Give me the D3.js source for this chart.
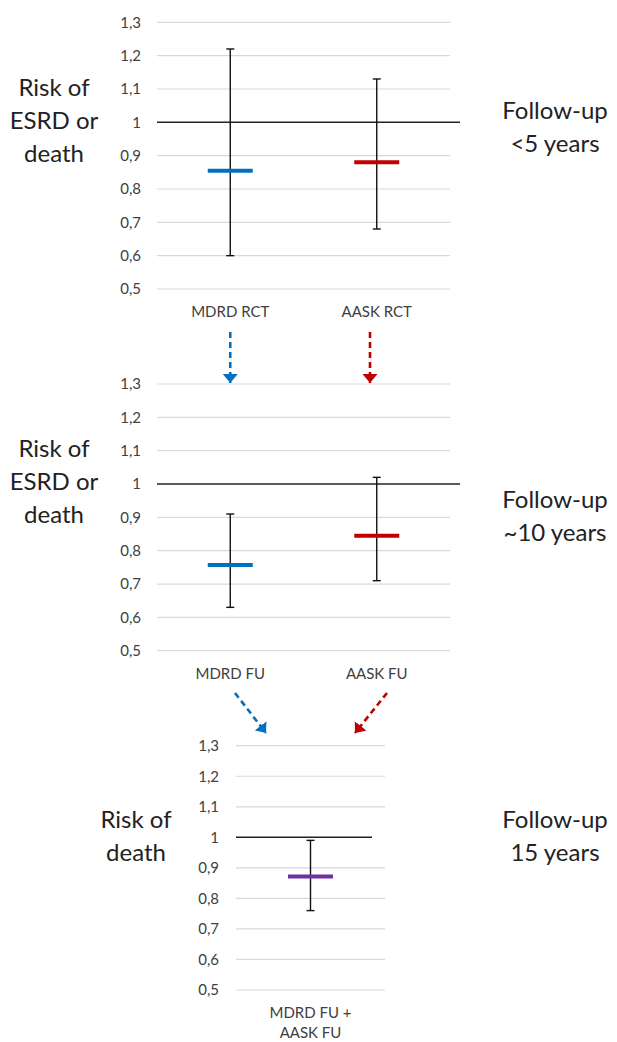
<!DOCTYPE html>
<html>
<head>
<meta charset="utf-8">
<script src="https://cdn.jsdelivr.net/npm/d3@7"></script>
<style>
  html, body { margin: 0; padding: 0; background: #fff; }
  svg { display: block; font-family: Lato, "Open Sans", sans-serif; }
</style>
</head>
<body>
<svg id="chart" width="617" height="1042"></svg>
<script>
// values
const yTicks = [0.5, 0.6, 0.7, 0.8, 0.9, 1.0, 1.1, 1.2, 1.3];

const rctCats = ["MDRD RCT", "AASK RCT"];
const rctMean = [0.855, 0.88];
const rctLow = [0.60, 0.68];
const rctHigh = [1.22, 1.13];
const rctColors = ["#0070c0", "#c00000"];

const fuCats = ["MDRD FU", "AASK FU"];
const fuMean = [0.757, 0.845];
const fuLow = [0.63, 0.71];
const fuHigh = [0.91, 1.02];
const fuColors = ["#0070c0", "#c00000"];

const pooledCats = ["MDRD FU +\nAASK FU"];
const pooledMean = [0.872];
const pooledLow = [0.76];
const pooledHigh = [0.99];
const pooledColors = ["#7030a0"];

const svg = d3.select("#chart");
const fmt = d => d3.format(".1~f")(d).replace(".", ",");

// draws one panel, returns the scales so arrows can hook onto it
function panel(opt) {
  const y = d3.scaleLinear().domain([0.5, 1.3]).range([opt.bottom, opt.top]);
  const x = d3.scaleBand().domain(opt.cats).range([opt.left, opt.right]);
  const g = svg.append("g");

  g.selectAll("line.grid").data(yTicks.filter(t => t !== 1)).join("line")
    .attr("class", "grid")
    .attr("x1", opt.left).attr("x2", opt.right)
    .attr("y1", d => y(d)).attr("y2", d => y(d))
    .attr("stroke", "#d9d9d9").attr("stroke-width", 1.2);

  g.append("line")
    .attr("x1", opt.left).attr("x2", opt.refEnd)
    .attr("y1", y(1)).attr("y2", y(1))
    .attr("stroke", "#222").attr("stroke-width", 1.4);

  const ax = g.append("g").attr("transform", `translate(${opt.left},0)`)
    .call(d3.axisLeft(y).tickValues(yTicks).tickFormat(fmt).tickSize(0).tickPadding(opt.pad));
  ax.select(".domain").remove();
  ax.selectAll("text").attr("font-size", 15).attr("fill", "#404040")
    .attr("font-family", "Lato, 'Open Sans', sans-serif");

  const rows = opt.cats.map((c, i) => ({ c, m: opt.mean[i], lo: opt.low[i], hi: opt.high[i], col: opt.colors[i] }));
  const cx = d => x(d.c) + x.bandwidth() / 2;

  g.selectAll("line.whisker").data(rows).join("line")
    .attr("x1", cx).attr("x2", cx)
    .attr("y1", d => y(d.lo)).attr("y2", d => y(d.hi))
    .attr("stroke", "#111").attr("stroke-width", 1.4);
  ["lo", "hi"].forEach(k => {
    g.selectAll("line.cap-" + k).data(rows).join("line")
      .attr("x1", d => cx(d) - 4).attr("x2", d => cx(d) + 4)
      .attr("y1", d => y(d[k])).attr("y2", d => y(d[k]))
      .attr("stroke", "#111").attr("stroke-width", 1.4);
  });
  g.selectAll("line.mean").data(rows).join("line")
    .attr("x1", d => cx(d) - 22.5).attr("x2", d => cx(d) + 22.5)
    .attr("y1", d => y(d.m)).attr("y2", d => y(d.m))
    .attr("stroke", d => d.col).attr("stroke-width", 4);

  const lab = g.selectAll("text.cat").data(rows).join("text")
    .attr("x", cx).attr("y", opt.bottom + 28)
    .attr("text-anchor", "middle").attr("font-size", 15).attr("fill", "#404040");
  lab.selectAll("tspan").data(d => d.c.split("\n")).join("tspan")
    .attr("x", function () { return d3.select(this.parentNode).attr("x"); })
    .attr("dy", (d, i) => i ? 20 : 0)
    .text(d => d);

  // side captions
  const side = (lines, xPos, yMid) => {
    const t = g.append("text").attr("text-anchor", "middle").attr("font-size", 24).attr("fill", "#222");
    t.selectAll("tspan").data(lines).join("tspan")
      .attr("x", xPos)
      .attr("y", (d, i) => yMid + (i - (lines.length - 1) / 2) * 33 + 8)
      .text(d => d);
  };
  side(opt.leftText, opt.leftX, opt.leftY);
  side(opt.rightText, 555, opt.rightY);

  return { x, y, cx: c => x(c) + x.bandwidth() / 2 };
}

const p1 = panel({
  cats: rctCats, mean: rctMean, low: rctLow, high: rctHigh, colors: rctColors,
  top: 22.3, bottom: 289, left: 157, right: 450, refEnd: 460, pad: 16,
  leftText: ["Risk of", "ESRD or", "death"], leftX: 54, leftY: 121,
  rightText: ["Follow-up", "<5 years"], rightY: 127
});

const p2 = panel({
  cats: fuCats, mean: fuMean, low: fuLow, high: fuHigh, colors: fuColors,
  top: 384, bottom: 650.7, left: 157, right: 450, refEnd: 460, pad: 16,
  leftText: ["Risk of", "ESRD or", "death"], leftX: 54, leftY: 482,
  rightText: ["Follow-up", "~10 years"], rightY: 516
});

const p3 = panel({
  cats: pooledCats, mean: pooledMean, low: pooledLow, high: pooledHigh, colors: pooledColors,
  top: 745.7, bottom: 990, left: 236, right: 385, refEnd: 372, pad: 17,
  leftText: ["Risk of", "death"], leftX: 136, leftY: 836,
  rightText: ["Follow-up", "15 years"], rightY: 836
});

// dashed arrows linking the panels
const defs = svg.append("defs");
[["blue", "#0070c0"], ["red", "#c00000"]].forEach(([id, col]) => {
  defs.append("marker").attr("id", "head-" + id)
    .attr("viewBox", "0 -8 9 16").attr("refX", 9).attr("refY", 0)
    .attr("markerWidth", 9).attr("markerHeight", 16).attr("orient", "auto")
    .attr("markerUnits", "userSpaceOnUse")
    .append("path").attr("d", "M0,-7.5L9,0L0,7.5Z").attr("fill", col);
});

const arrows = [
  { x1: p1.cx(rctCats[0]), y1: 332, x2: p1.cx(rctCats[0]), y2: p2.y(1.3) - 1, col: "blue" },
  { x1: 370, y1: 332, x2: 370, y2: p2.y(1.3) - 1, col: "red" },
  { x1: 235, y1: 693, x2: 266, y2: 733, col: "blue" },
  { x1: 387, y1: 693, x2: 355, y2: 733, col: "red" }
];
svg.append("g").selectAll("line").data(arrows).join("line")
  .attr("x1", d => d.x1).attr("y1", d => d.y1)
  .attr("x2", d => d.x2).attr("y2", d => d.y2)
  .attr("stroke", d => d.col === "blue" ? "#0070c0" : "#c00000")
  .attr("stroke-width", 2.6).attr("stroke-dasharray", "6,4")
  .attr("marker-end", d => `url(#head-${d.col})`);
</script>
</body>
</html>
